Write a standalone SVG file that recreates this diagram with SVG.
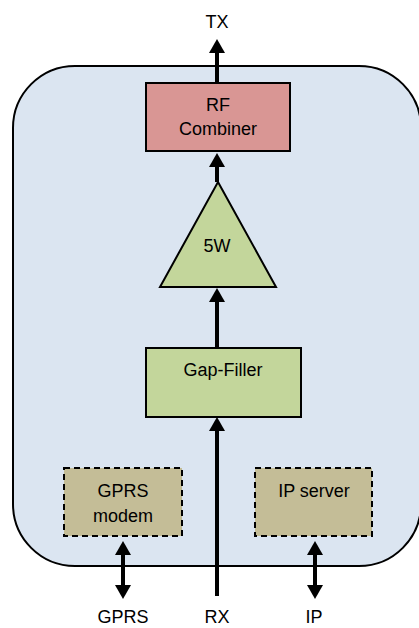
<svg xmlns="http://www.w3.org/2000/svg" width="419" height="628" viewBox="0 0 419 628">
<style>
text{font-family:"Liberation Sans",Arial,sans-serif;font-size:18px;fill:#000;text-anchor:middle}
.box{stroke:#000;stroke-width:2}
.dash{stroke:#000;stroke-width:2;stroke-dasharray:6,4}
.conn{stroke:#000;stroke-width:4;fill:none}
</style>
<defs>
<marker id="ah" viewBox="0 0 14 16" refX="1" refY="8" markerWidth="14" markerHeight="16" markerUnits="userSpaceOnUse" orient="auto-start-reverse">
<path d="M0,0 L14,8 L0,16 z" fill="#000"/>
</marker>
</defs>
<g id="container">
<rect x="13" y="66" width="408" height="500" rx="62" ry="62" fill="#DBE5F1" stroke="#000" stroke-width="2"/>
</g>
<g id="connectors">
<line class="conn" x1="217" y1="83" x2="217" y2="52" marker-end="url(#ah)"/>
<line class="conn" x1="217" y1="182" x2="217" y2="166" marker-end="url(#ah)"/>
<line class="conn" x1="217" y1="348" x2="217" y2="301" marker-end="url(#ah)"/>
<line class="conn" x1="217" y1="596" x2="217" y2="430" marker-end="url(#ah)"/>
<line class="conn" x1="123" y1="554" x2="123" y2="586" marker-start="url(#ah)" marker-end="url(#ah)"/>
<line class="conn" x1="315" y1="554" x2="315" y2="586" marker-start="url(#ah)" marker-end="url(#ah)"/>
</g>
<g id="rf-combiner">
<rect class="box" x="146" y="83" width="144" height="68" fill="#D99694"/>
<text x="218" y="111">RF</text>
<text x="218" y="135">Combiner</text>
</g>
<g id="amp-5w">
<polygon class="box" points="218,182 276,287 160,287" fill="#C3D69B"/>
<text x="217" y="252">5W</text>
</g>
<g id="gap-filler">
<rect class="box" x="146" y="348" width="155" height="69" fill="#C3D69B"/>
<text x="223" y="376">Gap-Filler</text>
</g>
<g id="gprs-modem">
<rect class="dash" x="64" y="468" width="118" height="68" fill="#C4BD97"/>
<text x="123" y="497">GPRS</text>
<text x="123" y="522">modem</text>
</g>
<g id="ip-server">
<rect class="dash" x="255" y="468" width="117" height="68" fill="#C4BD97"/>
<text x="314" y="497">IP server</text>
</g>
<g id="labels">
<text x="217" y="28">TX</text>
<text x="123" y="623">GPRS</text>
<text x="217" y="623">RX</text>
<text x="314" y="623">IP</text>
</g>
</svg>
